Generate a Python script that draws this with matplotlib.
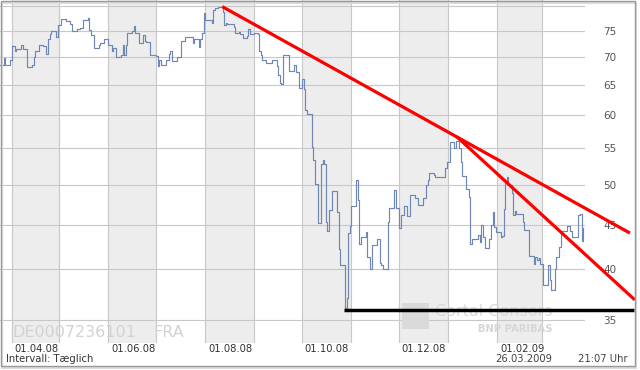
import numpy as np
import matplotlib
matplotlib.use('Agg')
import matplotlib.pyplot as plt
import matplotlib.dates as mdates
from matplotlib.patches import Rectangle
from matplotlib.ticker import NullLocator
from matplotlib.transforms import ScaledTranslation

# Kurs (Schlusskurse, EUR) -- Tage ab 25.03.2008
start = np.datetime64('2008-03-25')
day = [0, 2, 3, 6, 7, 9, 10, 13, 14, 17, 20, 21, 22, 24, 27, 29, 30, 31, 32, 35,
       36, 38, 41, 44, 45, 48, 50, 52, 55, 56, 57, 59, 62, 63, 65, 68, 70, 71, 73, 76,
       77, 78, 79, 80, 83, 84, 85, 87, 90, 91, 92, 94, 98, 99, 100, 101, 104, 106, 107, 108,
       111, 114, 116, 118, 121, 122, 125, 126, 127, 128, 129, 133, 134, 135, 137, 140, 141, 142, 143, 147,
       148, 150, 151, 153, 155, 156, 157, 160, 162, 163, 164, 165, 167, 171, 174, 175, 176, 177, 178, 182,
       185, 186, 188, 190, 191, 192, 193, 196, 197, 198, 200, 202, 203, 204, 205, 206, 207, 209, 212, 213,
       214, 217, 218, 219, 220, 221, 224, 225, 226, 227, 230, 231, 233, 234, 237, 239, 240, 241, 244, 245,
       248, 249, 251, 252, 254, 256, 258, 261, 263, 266, 268, 269, 270, 273, 274, 280, 281, 283, 286, 287,
       289, 290, 291, 293, 295, 296, 297, 301, 302, 303, 304, 305, 308, 309, 310, 311, 312, 315, 316, 317,
       318, 319, 320, 322, 323, 324, 325, 329, 330, 333, 336, 337, 338, 339, 340, 342, 345, 346, 347, 349,
       350, 352, 353, 357, 359, 360, 364, 365, 366, 367]
price = [68.5, 69.7, 68.5, 69.4, 72.1, 71.1, 71.4, 72.3, 71.4, 68.1, 68.5, 70.0, 71.1, 72.3, 72.0, 70.5, 73.3, 74.3, 74.9, 73.7,
         76.1, 77.3, 77.0, 76.3, 74.9, 75.3, 75.5, 77.1, 77.5, 75.1, 74.2, 71.6, 72.2, 72.5, 73.4, 72.2, 71.1, 71.6, 69.9, 70.4,
         72.3, 70.4, 72.3, 74.5, 74.9, 75.9, 74.5, 72.5, 74.2, 73.0, 72.8, 70.3, 70.1, 68.4, 69.4, 68.5, 69.5, 70.5, 71.0, 69.2,
         70.0, 73.0, 73.7, 73.8, 72.5, 73.3, 71.8, 73.3, 74.6, 78.5, 77.1, 76.6, 79.2, 79.6, 79.9, 78.7, 76.1, 76.5, 76.3, 75.8,
         74.6, 74.8, 74.3, 73.6, 73.9, 75.3, 74.4, 74.6, 74.3, 71.0, 70.4, 69.5, 68.8, 69.5, 68.3, 66.8, 65.3, 65.1, 70.3, 67.4,
         68.5, 67.2, 64.5, 66.1, 64.3, 60.9, 60.2, 55.2, 53.3, 50.1, 45.2, 52.8, 53.3, 52.8, 45.3, 44.2, 46.8, 49.1, 46.5, 42.2,
         40.5, 36.1, 37.1, 44.0, 44.8, 47.2, 50.6, 48.0, 42.8, 43.5, 44.1, 41.3, 40.0, 42.6, 43.3, 40.7, 40.4, 40.0, 45.3, 47.0,
         49.3, 47.0, 44.6, 46.2, 47.3, 46.0, 48.7, 48.3, 47.4, 48.3, 50.0, 50.6, 51.6, 51.3, 51.0, 52.2, 53.1, 56.0, 55.0, 56.1,
         55.0, 53.1, 51.2, 49.4, 48.4, 42.7, 43.3, 43.8, 43.0, 44.9, 43.6, 42.3, 43.3, 45.0, 46.5, 44.7, 44.1, 43.5, 43.7, 46.9,
         50.2, 51.0, 50.0, 48.9, 46.2, 46.6, 46.3, 45.3, 44.4, 41.4, 40.6, 41.3, 41.0, 41.2, 40.6, 38.4, 40.4, 38.9, 37.9, 40.0,
         41.3, 42.4, 44.3, 44.8, 44.2, 43.6, 46.2, 46.3, 43.1, 44.6]

# eingezeichnete Trendlinien
trend1_day = [139.7, 396.5]
trend1_price = [79.9, 44.0]
trend2_day = [287.5, 399.6]
trend2_price = [56.7, 36.9]
support_day = [216.6, 399.0]
support_price = [35.9, 35.9]

y_ticks = [35, 40, 45, 50, 55, 60, 65, 70, 75, 80]
y_labels = ['35', '40', '45', '50', '55', '60', '65', '70', '75', '']
x_ticks = ['2008-04-01', '2008-06-01', '2008-08-01', '2008-10-01', '2008-12-01', '2009-02-01']
x_labels = ['01.04.08', '01.06.08', '01.08.08', '01.10.08', '01.12.08', '01.02.09']
months = ['2008-04-01', '2008-05-01', '2008-06-01', '2008-07-01', '2008-08-01', '2008-09-01',
          '2008-10-01', '2008-11-01', '2008-12-01', '2009-01-01', '2009-02-01', '2009-03-01',
          '2009-04-01']

d0 = mdates.date2num(start)
to_num = lambda lst: d0 + np.array(lst, dtype=float)
month_num = [mdates.date2num(np.datetime64(m)) for m in months]

W, H = 640, 370
fig = plt.figure(figsize=(W / 100, H / 100), dpi=100)
ax = fig.add_axes([0, 27 / H, 585 / W, 343 / H])
ax.set_yscale('log')
ax.set_xlim(d0 - 0.27, d0 + 368.2)
ax.set_ylim(32.94, 81.3)

# Monatsschattierung und Gitter
for i in range(0, len(month_num) - 1, 2):
    ax.axvspan(month_num[i], month_num[i + 1], color='#ededed', lw=0, zorder=0.5)
for m in month_num:
    ax.axvline(m, color='#c8c8c8', lw=0.8, zorder=1)
for y in y_ticks:
    ax.axhline(y, color='#c8c8c8', lw=0.8, zorder=1)

# Wasserzeichen
wm = '#d2d2d2'
ax.text(12 / W, 1 - 337 / H, 'DE0007236101', transform=fig.transFigure, fontsize=11.5,
        color=wm, va='baseline', zorder=1.5)
ax.text(153 / W, 1 - 337 / H, 'FRA', transform=fig.transFigure, fontsize=11.5,
        color=wm, va='baseline', zorder=1.5)
ax.add_patch(Rectangle((402 / W, 1 - 329 / H), 27 / W, 26 / H, transform=fig.transFigure,
                       fc='#dadada', ec='none', zorder=1.5, clip_on=False))
ax.text(435 / W, 1 - 316 / H, 'Cortal Consors', transform=fig.transFigure, fontsize=11.5,
        color='#dadada', va='baseline', zorder=1.5)
ax.text(552 / W, 1 - 332 / H, 'BNP PARIBAS', transform=fig.transFigure, fontsize=7.2,
        fontweight='bold', color='#d6d6d6', va='baseline', ha='right', zorder=1.5)

ax.step(to_num(day), price, where='post', color='#6f87b5', lw=0.85, zorder=2)

ax.plot(to_num(trend1_day), trend1_price, color='#ff0000', lw=2.3, zorder=3,
        clip_on=False, solid_capstyle='butt')
ax.plot(to_num(trend2_day), trend2_price, color='#ff0000', lw=2.3, zorder=3,
        clip_on=False, solid_capstyle='butt')
ax.plot(to_num(support_day), support_price, color='#000000', lw=2.5, zorder=3,
        clip_on=False, solid_capstyle='butt')

for s in ax.spines.values():
    s.set_visible(False)

ax.set_yticks(y_ticks, y_labels)
ax.yaxis.set_minor_locator(NullLocator())
ax.yaxis.tick_right()
ax.tick_params(axis='y', length=0, pad=13, labelsize=7.5, labelcolor='#555555')

ax.set_xticks([mdates.date2num(np.datetime64(t)) for t in x_ticks], x_labels)
ax.xaxis.set_minor_locator(NullLocator())
ax.tick_params(axis='x', length=0, pad=0.5, labelsize=7.2, labelcolor='#333333')
shift = ScaledTranslation(2 / 72, 0, fig.dpi_scale_trans)
for lab in ax.get_xticklabels():
    lab.set_ha('left')
    lab.set_transform(lab.get_transform() + shift)

fig.text(6 / W, 1 - 359 / H, 'Intervall: Tæglich', fontsize=7.2, color='#333333', va='center')
fig.text(495 / W, 1 - 359 / H, '26.03.2009', fontsize=7.2, color='#444444', va='center')
fig.text(628 / W, 1 - 359 / H, '21:07 Uhr', fontsize=7.2, color='#444444', va='center', ha='right')

# Rahmen mit Schatten
fig.add_artist(Rectangle((2 / W, 1 - 368 / H), 634 / W, 365 / H, transform=fig.transFigure,
                         fill=False, ec='#dddddd', lw=1.5))
fig.add_artist(Rectangle((0.5 / W, 1 - 365.5 / H), 634 / W, 365 / H, transform=fig.transFigure,
                         fill=False, ec='#999999', lw=1.0))

fig.savefig('out.png', dpi=100)
